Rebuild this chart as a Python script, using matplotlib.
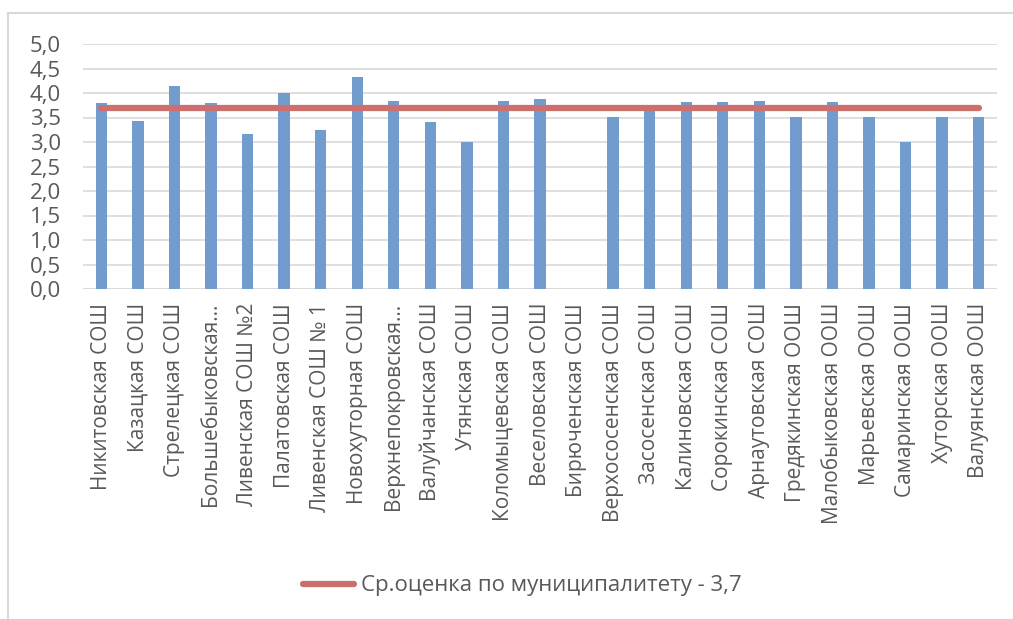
import numpy as np
import matplotlib
matplotlib.use("Agg")
import matplotlib.pyplot as plt
from matplotlib.lines import Line2D

# data
schools = [
    "Никитовская СОШ", "Казацкая СОШ", "Стрелецкая СОШ", "Большебыковская…",
    "Ливенская СОШ №2", "Палатовская СОШ", "Ливенская СОШ № 1", "Новохуторная СОШ",
    "Верхнепокровская…", "Валуйчанская СОШ", "Утянская СОШ", "Коломыцевская СОШ",
    "Веселовская СОШ", "Бирюченская СОШ", "Верхососенская СОШ", "Засосенская СОШ",
    "Калиновская СОШ", "Сорокинская СОШ", "Арнаутовская СОШ", "Гредякинская ООШ",
    "Малобыковская ООШ", "Марьевская ООШ", "Самаринская ООШ", "Хуторская ООШ",
    "Валуянская ООШ",
]
scores = [3.79, 3.43, 4.15, 3.79, 3.17, 3.99, 3.24, 4.32, 3.84, 3.40,
          3.01, 3.84, 3.87, 0.0, 3.51, 3.72, 3.81, 3.81, 3.84, 3.51,
          3.81, 3.51, 3.01, 3.51, 3.51]
avg_score = 3.7
avg_label = "Ср.оценка по муниципалитету - 3,7"
yticks = [0, 0.5, 1, 1.5, 2, 2.5, 3, 3.5, 4, 4.5, 5]

plt.rcParams['font.family'] = ['Open Sans', 'DejaVu Sans']
text_color = '#595959'
grid_color = '#D9D9D9'

fig = plt.figure(figsize=(10.13, 6.19), dpi=100)
ax = fig.add_axes([83 / 1013, 1 - 289 / 619, 914 / 1013, 245 / 619])

x = np.arange(len(schools))
ax.bar(x, scores, width=0.31, color='#739CCE', zorder=2)
ax.plot(x, [avg_score] * len(x), color='#CD6F6F', linewidth=4.5,
        solid_capstyle='round', zorder=3, label=avg_label)

ax.set_xlim(-0.5, len(schools) - 0.5)
ax.set_ylim(0, 5)
ax.set_yticks(yticks)
ax.set_yticklabels([f"{v:.1f}".replace('.', ',') for v in yticks],
                   fontsize=16, color=text_color)
ax.set_xticks(x)
ax.set_xticklabels(schools, rotation=90, fontsize=15, color=text_color,
                   va='top', ha='center')
ax.tick_params(axis='both', length=0)
ax.tick_params(axis='y', pad=16)
ax.tick_params(axis='x', pad=10)

ax.grid(axis='y', color=grid_color, linewidth=1.2, zorder=0)
for s in ax.spines.values():
    s.set_visible(False)
ax.axhline(0, color=grid_color, linewidth=1.2, zorder=1)

leg = fig.legend(loc='center', bbox_to_anchor=(522 / 1013, 1 - 586 / 619),
                 frameon=False, fontsize=16, handlelength=2.3,
                 handletextpad=0.3)
for t in leg.get_texts():
    t.set_color(text_color)

# chart border (only top and left visible in the reference crop)
fig.add_artist(Line2D([8 / 1013, 8 / 1013], [0, 1 - 13 / 619],
                      color=grid_color, linewidth=1.5, transform=fig.transFigure))
fig.add_artist(Line2D([8 / 1013, 1], [1 - 13 / 619, 1 - 13 / 619],
                      color=grid_color, linewidth=1.5, transform=fig.transFigure))

fig.savefig("out.png", dpi=100)
